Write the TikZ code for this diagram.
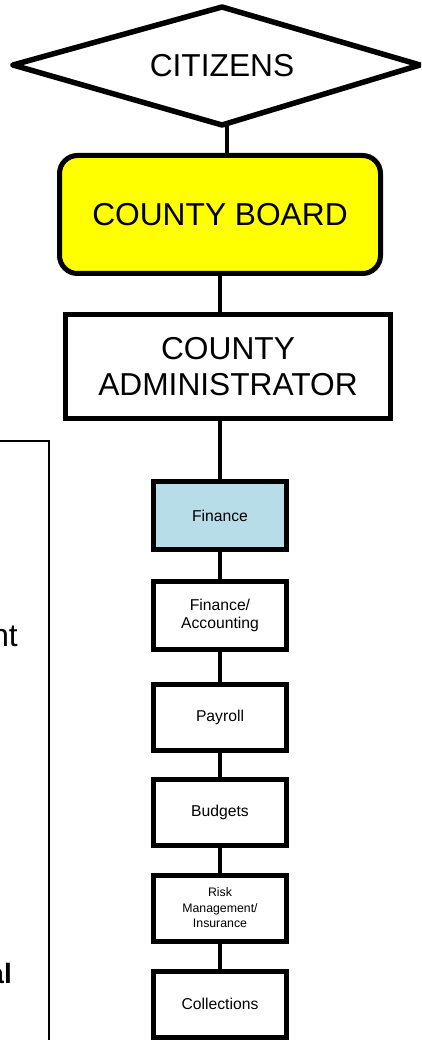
\documentclass[tikz,border=0pt]{standalone}
\usepackage{fontspec}
\setmainfont{Liberation Sans}
\definecolor{finblue}{RGB}{183,221,232}
\definecolor{boardyellow}{RGB}{255,255,0}
\begin{document}
\begin{tikzpicture}[x=1pt,y=-1pt,
  bigtxt/.style={font=\fontsize{31.7}{36.7}\selectfont},
  smalltxt/.style={font=\fontsize{15.7}{18}\selectfont},
  tinytxt/.style={font=\fontsize{12.3}{15.5}\selectfont},
  unitbox/.style={draw=black, line width=5pt, fill=white, minimum width=133pt,
    minimum height=66pt, inner sep=0pt, align=center, smalltxt},
  link/.style={draw=black, line width=4pt},
  sidepanel/.style={draw=black, line width=2pt}]
\useasboundingbox (0,0) rectangle (421,1040);
\clip (0,0) rectangle (421,1040);
\fill[white] (0,0) rectangle (421,1040);

% left side panel (partly visible)
\draw[sidepanel] (-5,441) -- (49,441) -- (49,1050);
\node[anchor=base east, inner sep=0pt, bigtxt] (leftA) at (18,646) {nt};
\node[anchor=base west, inner sep=0pt, text=black!25, bigtxt] (leftB) at (-6,741) {.};
\node[anchor=base east, inner sep=0pt, font=\bfseries\fontsize{28}{32}\selectfont] (leftC) at (12,983) {al};

% citizens diamond
\draw[line width=5.5pt, line join=round] (13,65) -- (222,7) -- (420,65) -- (222,125) -- cycle;
\node[bigtxt, inner sep=0pt] (cit) at (222,66) {CITIZENS};
\coordinate (citbot) at (227,122);

% county board
\node[draw=black, line width=5pt, fill=boardyellow, rounded corners=18pt,
  minimum width=321pt, minimum height=118pt, bigtxt] (board) at (220,214.5) {COUNTY BOARD};

% county administrator
\node[draw=black, line width=5pt, fill=white, minimum width=325pt, minimum height=104pt,
  align=center, bigtxt] (admin) at (228,366.5) {COUNTY\\ADMINISTRATOR};

% departments
\node[unitbox, fill=finblue, minimum height=68pt] (fin) at (220,515.5) {Finance};
\node[unitbox, minimum height=68pt] (acc) at (220,615.5) {Finance/\\Accounting};
\node[unitbox] (pay) at (220,717) {Payroll};
\node[unitbox] (bud) at (220,812.5) {Budgets};
\node[unitbox, tinytxt] (risk) at (220,908) {Risk\\Management/\\Insurance};
\node[unitbox] (col) at (220,1004) {Collections};

% connectors
\draw[link] (citbot) -- (citbot |- board.north);
\draw[link] (board.south) -- (board.south |- admin.north);
\draw[link] (fin.north |- admin.south) -- (fin.north);
\draw[link] (fin.south) -- (acc.north);
\draw[link] (acc.south) -- (pay.north);
\draw[link] (pay.south) -- (bud.north);
\draw[link] (bud.south) -- (risk.north);
\draw[link] (risk.south) -- (col.north);
\end{tikzpicture}
\end{document}
